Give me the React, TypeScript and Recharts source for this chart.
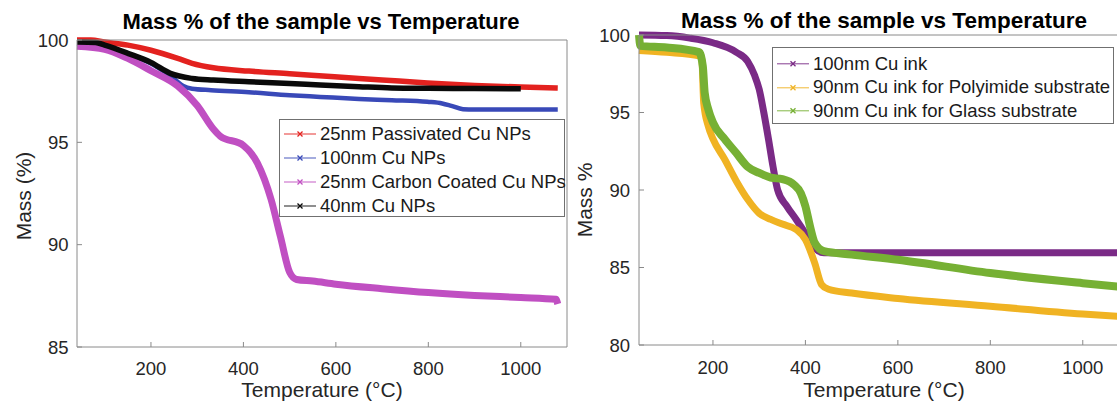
import { LineChart, Line, XAxis, YAxis, Legend } from 'recharts';

const FONT = '"Liberation Sans", Arial, Helvetica, sans-serif';
const AXIS = '#8a8a8a';
const TXT = '#262626';

// left panel - Cu nanoparticles
const passivatedT = [40, 70, 100, 150, 200, 258, 289, 335, 412, 500, 597, 700, 798, 900, 1000, 1080];
const passivatedM = [100, 100, 99.9, 99.75, 99.5, 99.1, 98.86, 98.64, 98.48, 98.35, 98.2, 98.05, 97.9, 97.78, 97.7, 97.65];

const np100T = [40, 100, 150, 200, 250, 270, 289, 330, 412, 500, 566, 650, 721, 798, 830, 850, 875, 900, 1000, 1080];
const np100M = [99.8, 99.65, 99.3, 98.85, 98.1, 97.75, 97.62, 97.55, 97.45, 97.3, 97.22, 97.12, 97.06, 96.98, 96.9, 96.78, 96.62, 96.6, 96.6, 96.6];

const carbonT = [40, 100, 150, 200, 258, 300, 335, 350, 400, 430, 460, 480, 500, 515, 550, 600, 700, 800, 900, 1000, 1076, 1080];
const carbonM = [99.7, 99.55, 99.1, 98.5, 97.75, 96.8, 95.65, 95.3, 94.85, 94.0, 92.2, 90.4, 88.65, 88.3, 88.22, 88.07, 87.85, 87.66, 87.52, 87.42, 87.33, 87.1];

const np40T = [40, 80, 100, 150, 200, 242, 289, 335, 412, 500, 566, 650, 721, 800, 900, 1000];
const np40M = [99.9, 99.88, 99.75, 99.35, 98.9, 98.37, 98.12, 98.04, 97.96, 97.88, 97.8, 97.72, 97.66, 97.64, 97.63, 97.62];

// right panel - Cu inks
const ink100T = [40, 100, 150, 200, 250, 275, 290, 300, 310, 320, 330, 340, 360, 380, 400, 420, 440, 460, 600, 800, 1000, 1100];
const ink100M = [100, 99.96, 99.8, 99.5, 98.9, 98.3, 97.4, 96.5, 95.0, 93.3, 91.5, 90.0, 88.95, 88.1, 87.2, 86.25, 85.95, 85.95, 85.95, 85.95, 85.95, 85.95];

const polyT = [40, 100, 170, 176, 180, 190, 200, 225, 250, 275, 300, 325, 350, 380, 400, 420, 435, 450, 500, 600, 800, 1000, 1100];
const polyM = [99.0, 98.88, 98.66, 98.4, 95.6, 94.1, 93.3, 92.0, 90.6, 89.4, 88.5, 88.1, 87.8, 87.45, 86.8, 85.3, 83.9, 83.6, 83.35, 83.0, 82.5, 82.0, 81.8];

const glassT = [40, 43, 100, 170, 178, 182, 190, 200, 225, 250, 275, 300, 325, 350, 375, 390, 400, 410, 420, 440, 500, 600, 800, 1000, 1100];
const glassM = [100, 99.3, 99.2, 98.9, 98.0, 96.3, 95.2, 94.35, 93.3, 92.4, 91.5, 91.1, 90.8, 90.7, 90.35, 89.8, 88.95, 87.65, 86.6, 86.05, 85.83, 85.5, 84.64, 83.99, 83.7];

const xTicks = [200, 400, 600, 800, 1000];
const leftYTicks = [85, 90, 95, 100];
const rightYTicks = [80, 85, 90, 95, 100];

const leftSeries = [
  { name: '25nm Passivated Cu NPs', color: '#e3221f', width: 5.5, data: zip(passivatedT, passivatedM) },
  { name: '100nm Cu NPs', color: '#3949b8', width: 4.5, data: zip(np100T, np100M) },
  { name: '25nm Carbon Coated Cu NPs', color: '#c04fc2', width: 7, data: zip(carbonT, carbonM) },
  { name: '40nm Cu NPs', color: '#0a0a0a', width: 5.5, data: zip(np40T, np40M) },
];

const rightSeries = [
  { name: '100nm Cu ink', color: '#7a2a86', width: 7, data: zip(ink100T, ink100M) },
  { name: '90nm Cu ink for Polyimide substrate', color: '#f0b323', width: 7, data: zip(polyT, polyM) },
  { name: '90nm Cu ink for Glass substrate', color: '#76b034', width: 8, data: zip(glassT, glassM) },
];

function zip(t: number[], m: number[]) {
  return t.map((v, i) => ({ t: v, mass: m[i] }));
}

const tickStyle = { fontSize: 18.5, fill: TXT, fontFamily: FONT };

function LegendBox({ items, rowH, padTop }: any) {
  return (
    <div
      style={{
        border: '1px solid #707070',
        background: '#fff',
        boxSizing: 'border-box',
        width: '100%',
        height: '100%',
        paddingTop: padTop,
        fontFamily: FONT,
        fontSize: 18.5,
        color: '#1a1a1a',
      }}
    >
      {items.map((p: any) => (
        <div key={p.name} style={{ display: 'flex', alignItems: 'center', height: rowH, whiteSpace: 'nowrap' }}>
          <svg width={38} height={rowH} style={{ flex: 'none' }}>
            <line x1={4} x2={36} y1={rowH / 2} y2={rowH / 2} stroke={p.color} strokeWidth={1.3} opacity={0.7} />
            <path
              d={`M17.5,${rowH / 2 - 2.5}L22.5,${rowH / 2 + 2.5}M17.5,${rowH / 2 + 2.5}L22.5,${rowH / 2 - 2.5}`}
              stroke={p.color}
              strokeWidth={1.3}
            />
          </svg>
          <span style={{ marginLeft: 2 }}>{p.name}</span>
        </div>
      ))}
    </div>
  );
}

const absText = (left: number, top: number, size: number, bold = false, rotate = false): any => ({
  position: 'absolute',
  left,
  top,
  transform: rotate ? 'translate(-50%, -50%) rotate(-90deg)' : 'translate(-50%, -50%)',
  fontFamily: FONT,
  fontSize: size,
  fontWeight: bold ? 'bold' : 'normal',
  color: bold ? '#000' : TXT,
  whiteSpace: 'nowrap',
  lineHeight: 1,
});

function Panel({ series, yDomain, yTicks, width, margin, yWidth, xMargin, yMargin, legendStyle, rowH, padTop }: any) {
  return (
    <LineChart width={width} height={409} margin={margin}>
      <XAxis type="number" dataKey="t" domain={[40, 1100]} ticks={xTicks} height={50} stroke={AXIS} tickSize={-5} tickMargin={xMargin} tick={tickStyle} />
      <XAxis xAxisId="top" orientation="top" type="number" dataKey="t" domain={[40, 1100]} ticks={xTicks} height={1} stroke={AXIS} tickSize={-5} tick={false} />
      <YAxis type="number" domain={yDomain} ticks={yTicks} width={yWidth} stroke={AXIS} tickSize={-5} tickMargin={yMargin} tick={tickStyle} />
      <YAxis yAxisId="right" orientation="right" type="number" domain={yDomain} ticks={yTicks} width={1} stroke={AXIS} tickSize={-5} tick={false} />
      {/* invisible copy so the top/right frame axes get drawn */}
      <Line xAxisId="top" yAxisId="right" data={series[0].data} dataKey="mass" stroke="none" dot={false} legendType="none" isAnimationActive={false} />
      {series.map((s: any) => (
        <Line key={s.name} data={s.data} dataKey="mass" name={s.name} type="monotone" stroke={s.color} strokeWidth={s.width} dot={false} isAnimationActive={false} />
      ))}
      <Legend
        layout="vertical"
        align="center"
        verticalAlign="middle"
        wrapperStyle={legendStyle}
        content={() => <LegendBox items={series} rowH={rowH} padTop={padTop} />}
      />
    </LineChart>
  );
}

export default function App() {
  return (
    <div style={{ position: 'absolute', left: 0, top: 0, width: 1117, height: 409, overflow: 'hidden', background: '#fff' }}>
      <div style={{ position: 'absolute', left: 0, top: 0 }}>
        <Panel
          series={leftSeries}
          yDomain={[85, 100]}
          yTicks={leftYTicks}
          width={590}
          margin={{ top: 39, right: 22, bottom: 12, left: 0 }}
          yWidth={77}
          xMargin={20}
          yMargin={13.5}
          legendStyle={{ left: 279, top: 119, width: 286, height: 98 }}
          rowH={24}
          padTop={2}
        />
      </div>
      <div style={{ position: 'absolute', left: 560, top: 0 }}>
        <Panel
          series={rightSeries}
          yDomain={[80, 100]}
          yTicks={rightYTicks}
          width={600}
          margin={{ top: 34, right: 30, bottom: 14, left: 0 }}
          yWidth={79}
          xMargin={21}
          yMargin={14}
          legendStyle={{ left: 212, top: 47, width: 342, height: 77 }}
          rowH={23.5}
          padTop={4}
        />
      </div>

      <div style={absText(321, 22, 22, true)}>Mass % of the sample vs Temperature</div>
      <div style={absText(884, 21, 22.5, true)}>Mass % of the sample vs Temperature</div>
      <div style={absText(322, 389, 21)}>Temperature (°C)</div>
      <div style={absText(884, 389, 21)}>Temperature (°C)</div>
      <div style={absText(23, 196, 21, false, true)}>Mass (%)</div>
      <div style={absText(584, 200, 21, false, true)}>Mass %</div>
    </div>
  );
}
